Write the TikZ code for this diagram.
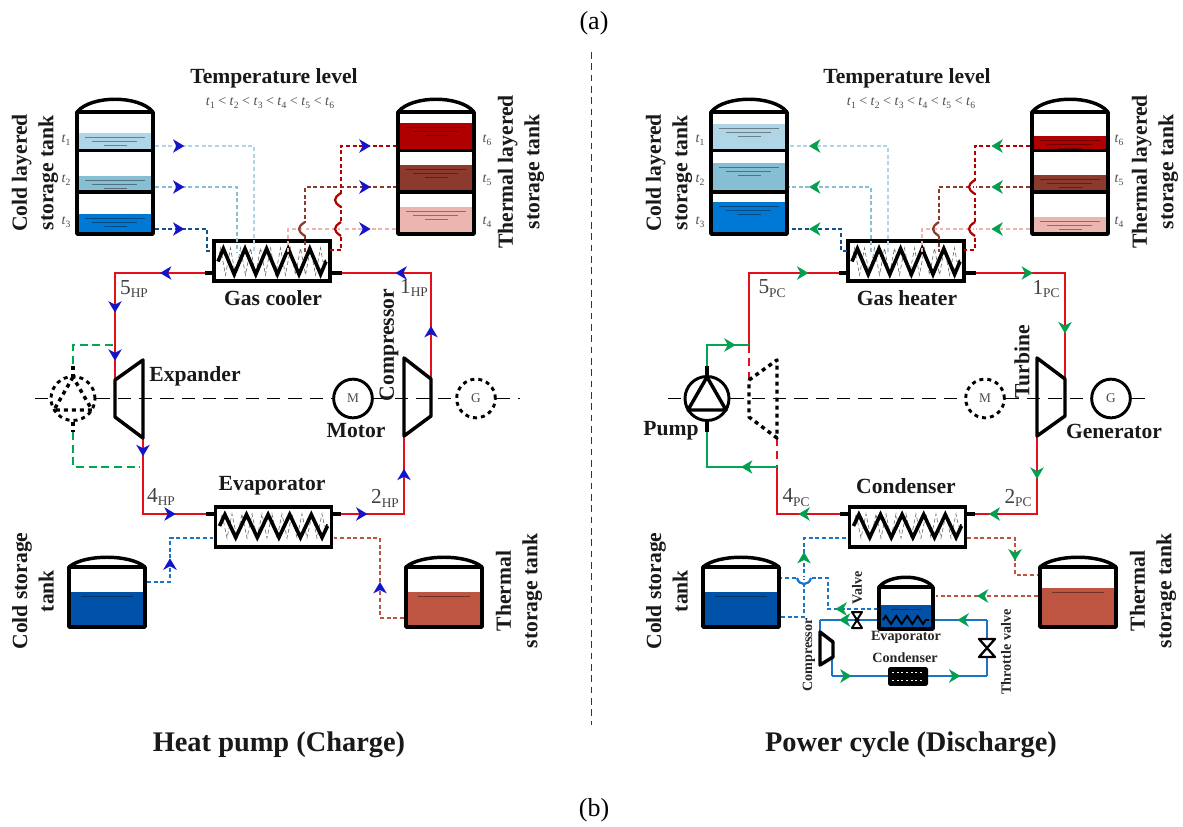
\documentclass[tikz,border=0pt]{standalone}
\usepackage{fontspec}
\setmainfont{Liberation Serif}
\usetikzlibrary{calc,arrows.meta,decorations.markings,decorations.pathmorphing}

\definecolor{pipered}{HTML}{E3101C}
\definecolor{pipegreen}{HTML}{00A651}
\definecolor{pipeblue}{HTML}{1B75C4}
\definecolor{tipblue}{HTML}{1414C8}
\definecolor{tipgreen}{HTML}{00A050}
\definecolor{layerA}{HTML}{AFD5E7}
\definecolor{layerB}{HTML}{86BED3}
\definecolor{layerC}{HTML}{0079D6}
\definecolor{layerF}{HTML}{B00000}
\definecolor{layerE}{HTML}{8C3A2D}
\definecolor{layerD}{HTML}{EBB6AF}
\definecolor{coldwater}{HTML}{0052A8}
\definecolor{hotwater}{HTML}{BD5541}

\tikzset{
	flowtip/.style 2 args={postaction={decorate,decoration={markings,mark=at position #2 with {\arrow{Stealth[length=8.5pt,width=10pt,inset=2.5pt,color=#1]}}}}},
	bluetip/.style={flowtip={tipblue}{#1}},
	greentip/.style={flowtip={tipgreen}{#1}},
	mainpipe/.style={draw=pipered,line width=1.7pt,line cap=rect},
	finepipe/.style={line width=1.5pt,dash pattern=on 3pt off 2pt},
	blackline/.style={draw=black,line width=2.6pt,line join=round},
	shaft/.style={draw=black,line width=1.1pt,dash pattern=on 10pt off 6pt},
	machine/.style={circle,draw=black,line width=2.2pt,minimum size=29pt,inner sep=0pt,fill=white,text=black!70},
	hxbox/.style={draw=black,line width=2.6pt,fill=white,minimum width=87pt,minimum height=30pt,inner sep=0pt},
	bigname/.style={font=\fontsize{16.2}{20}\selectfont\bfseries,text=black!90,inner sep=0pt,align=center},
	smallname/.style={font=\fontsize{10.6}{12}\selectfont\bfseries,text=black!85,inner sep=0pt},
	statename/.style={font=\fontsize{16}{18}\selectfont,text=black!75,inner sep=0pt},
	levelname/.style={font=\fontsize{10.5}{12}\selectfont,text=black!70,inner sep=0pt},
	titlename/.style={font=\fontsize{21.3}{26}\selectfont\bfseries,text=black!90,inner sep=0pt},
	capname/.style={font=\fontsize{19.5}{22}\selectfont,inner sep=0pt},
}

\newcommand{\statelab}[2]{#1\raisebox{-0.4ex}{\fontsize{10}{12}\selectfont #2}}
\newcommand{\tlab}[1]{\textit{t}\raisebox{-0.35ex}{\fontsize{7.2}{8}\selectfont #1}}

% tank with three stacked layers: left x, {top/bottom/colour,...}
\newcommand{\layertank}[2]{
	\foreach \ytop/\ybot/\fillc in {#2}{
		\fill[\fillc] (#1,\ytop) rectangle (#1+76,\ybot);
		\draw[\fillc!60!black,line width=0.5pt] (#1+8,\ytop+4) -- (#1+68,\ytop+4);
		\draw[\fillc!60!black,line width=0.5pt] (#1+15,\ytop+8) -- (#1+60,\ytop+8);
		\draw[\fillc!60!black,line width=0.5pt] (#1+27,\ytop+12) -- (#1+50,\ytop+12);
	};
	\draw[blackline] (#1,112) -- (#1+76,112) -- (#1+76,234) -- (#1,234) -- cycle;
	\draw[blackline] (#1,112) .. controls (#1+14,95) and (#1+62,95) .. (#1+76,112);
	\draw[blackline] (#1,150.5) -- (#1+76,150.5);
	\draw[blackline] (#1,192) -- (#1+76,192);
}

% plain tank: left x, width, top y, bottom y, level y, colour
\newcommand{\plaintank}[6]{
	\fill[#6] (#1,#5) rectangle (#1+#2,#4);
	\draw[#6!60!black,line width=0.5pt] (#1+12,#5+4) -- (#1+#2-12,#5+4);
	\draw[blackline] (#1,#3) -- (#1+#2,#3) -- (#1+#2,#4) -- (#1,#4) -- cycle;
	\draw[blackline] (#1,#3) .. controls (#1+#2*0.2,#3-13) and (#1+#2*0.8,#3-13) .. (#1+#2,#3);
}

% coil of an exchanger: left x, right x, middle y, half height
\newcommand{\coilrow}[4]{
	\draw[black!60,line width=0.45pt,densely dashed,decorate,decoration={zigzag,amplitude=#4+0.5pt,segment length=7.5pt}] (#1,#3) -- (#2,#3);
	\draw[black,line width=2.7pt,line join=miter,decorate,decoration={zigzag,amplitude=#4,segment length=16.2pt}] (#1,#3) -- (#2,#3);
}

\newcommand{\pumpmark}[2]{
	\draw[blackline,#2] (#1,377) -- (#1-19,410) -- (#1+19,410) -- cycle;
	\draw[blackline,#2] (#1,366) -- (#1,377);
	\draw[blackline,#2] (#1,422) -- (#1,432);
}

% small crossing bump on a pipe: x, y, colour
\newcommand{\hopleft}[3]{
	\draw[white,line width=2.2pt] (#1,#2-6) -- (#1,#2+6);
	\draw[#3,line width=1.7pt] (#1,#2-7) .. controls (#1-8,#2-2) and (#1-8,#2+2) .. (#1,#2+7);
}

\begin{document}
\begin{tikzpicture}[x=0.75pt,y=-0.75pt]
	\useasboundingbox (0,0) rectangle (1183,827);
	
	\coordinate (divtop) at (591,52);
	\coordinate (divbot) at (591,725);
	\draw[black!80,line width=0.7pt,dash pattern=on 5pt off 3.5pt] (divtop) -- (divbot);
	
	%%%% heat pump side
	\layertank{77}{133/150/layerA,176/192/layerB,214/234/layerC}
	\layertank{398}{123/151/layerF,165/192/layerE,207/234/layerD}
	\plaintank{69}{76}{567}{627}{592}{coldwater}
	\plaintank{406}{76}{567}{627}{592}{hotwater}
	
	\node at (272,261) [hxbox] (hCool) {};
	\node at (273.5,527) [hxbox] (hEvap) {};
	\coilrow{218}{326}{261.5}{9.6pt}
	\coilrow{219.5}{327.5}{526}{8.6pt}
	
	\coordinate (hTL) at (115,273);
	\coordinate (hTR) at (431,273);
	\coordinate (hBL) at (143,514);
	\coordinate (hBR) at (404,514);
	\coordinate (hCoolL) at (205,273);
	\coordinate (hCoolR) at (342,273);
	\coordinate (hEvapL) at (206,514);
	\coordinate (hEvapR) at (341,514);
	\coordinate (hExpA) at (115,380);
	\coordinate (hExpB) at (143,438);
	\coordinate (hCompA) at (404,436);
	\coordinate (hCompB) at (431,379);
	
	\path
	(hCoolL) edge[mainpipe,bluetip=0.5] (hTL)
	(hTL) edge[mainpipe,bluetip=0.37,bluetip=0.82] (hExpA)
	(hExpB) edge[mainpipe,bluetip=0.24] (hBL)
	(hBL) edge[mainpipe,bluetip=0.52] (hEvapL)
	(hEvapR) edge[mainpipe,bluetip=0.42] (hBR)
	(hBR) edge[mainpipe,bluetip=0.58] (hCompA)
	(hCompB) edge[mainpipe,bluetip=0.5] (hTR)
	(hTR) edge[mainpipe,bluetip=0.4] (hCoolR)
	;
	\draw[black,line width=2.6pt] (hCoolL) -- (hCool.west |- hCoolL);
	\draw[black,line width=2.6pt] (hCool.east |- hCoolR) -- (hCoolR);
	\draw[black,line width=2.6pt] (hEvapL) -- (hEvap.west |- hEvapL);
	\draw[black,line width=2.6pt] (hEvap.east |- hEvapR) -- (hEvapR);
	
	\draw[blackline,fill=white] (115,380) -- (143,360) -- (143,438) -- (115,417) -- cycle;
	\draw[blackline,fill=white] (404,358) -- (431,379) -- (431,416) -- (404,436) -- cycle;
	
	\node at (73,398.5) [machine,dashed,minimum size=33pt] (hPump) {};
	\pumpmark{73}{dashed}
	\node at (353,398.5) [machine] (hMotor) {M};
	\node at (476,398.5) [machine,dashed] (hGen) {G};
	
	\coordinate (hShaftW) at (35,398.5);
	\coordinate (hShaftE) at (520,398.5);
	\path
	(hShaftW) edge[shaft] (hPump)
	(hPump) edge[shaft] (hMotor)
	(hMotor) edge[shaft] (hGen)
	(hGen) edge[shaft] (hShaftE)
	;
	
	\coordinate (hGreenA) at (113,345);
	\coordinate (hGreenB) at (73,365);
	\coordinate (hGreenC) at (73,432);
	\coordinate (hGreenD) at (140,467);
	\draw[pipegreen,line width=1.6pt,dash pattern=on 6pt off 3.5pt] (hGreenA) -| (hGreenB);
	\draw[pipegreen,line width=1.6pt,dash pattern=on 6pt off 3.5pt] (hGreenC) |- (hGreenD);
	
	\foreach \n/\px/\py/\pc in {1/254/146/layerA,2/237/187/layerB}{
		\coordinate (hCold\n) at (155,\py);
		\coordinate (hCoil\n) at (\px,252);
		\draw[finepipe,draw=\pc,bluetip=22pt] (hCold\n) -| (hCoil\n);
	};
	\coordinate (hColdC) at (155,229);
	\coordinate (hColdD) at (207,229);
	\coordinate (hColdE) at (213,251);
	\draw[finepipe,draw=pipeblue!70!black,bluetip=22pt] (hColdC) -- (hColdD) |- (hColdE);
	
	\foreach \n/\px/\py/\pc in {1/288/229/layerD,2/305/187/layerE}{
		\coordinate (hHot\n) at (396,\py);
		\coordinate (hHoil\n) at (\px,252);
		\draw[finepipe,draw=\pc,bluetip=-19pt] (hHoil\n) |- (hHot\n);
	};
	\coordinate (hHotC) at (330,250);
	\coordinate (hHotD) at (341,250);
	\coordinate (hHotE) at (396,146);
	\draw[finepipe,draw=layerF,bluetip=-19pt] (hHotC) -- (hHotD) |- (hHotE);
	\hopleft{341}{200}{layerF}
	\hopleft{341}{229}{layerF}
	\hopleft{305}{229}{layerE}
	
	\coordinate (hDotA) at (147,582);
	\coordinate (hDotB) at (170,582);
	\coordinate (hDotC) at (213,538);
	\draw[finepipe,draw=pipeblue,bluetip=35pt] (hDotA) -- (hDotB) |- (hDotC);
	\coordinate (hDotD) at (334,538);
	\coordinate (hDotE) at (380,538);
	\coordinate (hDotF) at (404,618);
	\draw[finepipe,draw=hotwater,bluetip=45pt] (hDotF) -| (hDotE) -- (hDotD);
	
	\node[bigname] (hTemp) at (274,78) {Temperature level};
	\node[levelname] (hOrder) at (270,103) {\tlab{1} < \tlab{2} < \tlab{3} < \tlab{4} < \tlab{5} < \tlab{6}};
	\node[bigname,rotate=90] (hColdName) at (35,173) {Cold layered\\storage tank};
	\node[bigname,rotate=90] (hHotName) at (521,172) {Thermal layered\\storage tank};
	\node[bigname,rotate=90] (hStoreC) at (33,591) {Cold storage\\tank};
	\node[bigname,rotate=90] (hStoreH) at (519,591) {Thermal\\storage tank};
	\node[bigname] (hCoolName) at (273,298) {Gas cooler};
	\node[bigname] (hEvapName) at (272,486) {Evaporator};
	\node[bigname] (hExpName) at (195,376) {Expander};
	\node[bigname] (hMotorName) at (356,431) {Motor};
	\node[bigname,rotate=90] (hCompName) at (389,345) {Compressor};
	\node[statename] (hS5) at (134,289) {\statelab{5}{HP}};
	\node[statename] (hS1) at (414,288) {\statelab{1}{HP}};
	\node[statename] (hS4) at (161,497) {\statelab{4}{HP}};
	\node[statename] (hS2) at (385,498) {\statelab{2}{HP}};
	\foreach \n/\yy in {1/140,2/180,3/222}{
		\node[levelname] (hT\n) at (66,\yy) {\tlab{\n}};
	};
	\foreach \n/\yy in {6/140,5/180,4/222}{
		\node[levelname] (hT\n) at (487,\yy) {\tlab{\n}};
	};
	\node[titlename] (hTitle) at (279,745) {Heat pump (Charge)};
	
	%%%% power cycle side
	\layertank{711}{124/150/layerA,163/192/layerB,202/234/layerC}
	\layertank{1032}{136/151/layerF,175/192/layerE,217/234/layerD}
	\plaintank{703}{76}{567}{627}{592}{coldwater}
	\plaintank{1040}{76}{567}{627}{588}{hotwater}
	
	\node at (906,261) [hxbox] (pHeat) {};
	\node at (907.5,527) [hxbox] (pCond) {};
	\coilrow{852}{960}{261.5}{9.6pt}
	\coilrow{853.5}{961.5}{526}{8.6pt}
	
	\coordinate (pTL) at (749,273);
	\coordinate (pTR) at (1065,273);
	\coordinate (pBL) at (777,514);
	\coordinate (pBR) at (1037,514);
	\coordinate (pHeatL) at (839,273);
	\coordinate (pHeatR) at (976,273);
	\coordinate (pCondL) at (840,514);
	\coordinate (pCondR) at (975,514);
	\coordinate (pFeedA) at (749,345);
	\coordinate (pFeedB) at (749,380);
	\coordinate (pFeedC) at (777,438);
	\coordinate (pFeedD) at (777,467);
	\coordinate (pTurbA) at (1065,379);
	\coordinate (pTurbB) at (1037,436);
	
	\path
	(pFeedA) edge[mainpipe] (pTL)
	(pTL) edge[mainpipe,greentip=0.66] (pHeatL)
	(pHeatR) edge[mainpipe,greentip=0.64] (pTR)
	(pTR) edge[mainpipe,greentip=0.57] (pTurbA)
	(pTurbB) edge[mainpipe,greentip=0.55] (pBR)
	(pBR) edge[mainpipe,greentip=0.78] (pCondR)
	(pCondL) edge[mainpipe,greentip=0.66] (pBL)
	(pBL) edge[mainpipe] (pFeedD)
	;
	\draw[black,line width=2.6pt] (pHeatL) -- (pHeat.west |- pHeatL);
	\draw[black,line width=2.6pt] (pHeat.east |- pHeatR) -- (pHeatR);
	\draw[black,line width=2.6pt] (pCondL) -- (pCond.west |- pCondL);
	\draw[black,line width=2.6pt] (pCond.east |- pCondR) -- (pCondR);
	
	\draw[pipered,line width=1.7pt,dash pattern=on 6pt off 4pt] (pFeedA) -- (pFeedB);
	\draw[pipered,line width=1.7pt,dash pattern=on 6pt off 4pt] (pFeedC) -- (pFeedD);
	\draw[blackline,dashed] (749,380) -- (777,360) -- (777,438) -- (749,417) -- cycle;
	\draw[blackline,fill=white] (1037,358) -- (1065,379) -- (1065,416) -- (1037,436) -- cycle;
	
	\node at (707,398.5) [machine,minimum size=33pt] (pPump) {};
	\pumpmark{707}{}
	\node at (985,398.5) [machine,dashed] (pMotor) {M};
	\node at (1111,398.5) [machine] (pGen) {G};
	
	\coordinate (pShaftW) at (668,398.5);
	\coordinate (pShaftE) at (1150,398.5);
	\path
	(pShaftW) edge[shaft] (pPump)
	(pPump) edge[shaft] (pMotor)
	(pMotor) edge[shaft] (pGen)
	(pGen) edge[shaft] (pShaftE)
	;
	
	\coordinate (pGreenA) at (707,366);
	\coordinate (pGreenB) at (707,432);
	\draw[pipegreen,line width=1.7pt,greentip=-10pt] (pGreenA) |- (pFeedA);
	\draw[pipegreen,line width=1.7pt,greentip=27pt] (pFeedD) -| (pGreenB);
	
	\foreach \n/\px/\py/\pc in {1/888/146/layerA,2/871/187/layerB}{
		\coordinate (pCold\n) at (789,\py);
		\coordinate (pCoil\n) at (\px,252);
		\draw[finepipe,draw=\pc,greentip=-15pt] (pCoil\n) |- (pCold\n);
	};
	\coordinate (pColdC) at (847,251);
	\coordinate (pColdD) at (841,229);
	\coordinate (pColdE) at (789,229);
	\draw[finepipe,draw=pipeblue!70!black,greentip=-15pt] (pColdC) -| (pColdD) -- (pColdE);
	
	\foreach \n/\px/\py/\pc in {1/922/229/layerD,2/939/187/layerE}{
		\coordinate (pHot\n) at (1030,\py);
		\coordinate (pHoil\n) at (\px,252);
		\draw[finepipe,draw=\pc,greentip=29pt] (pHot\n) -| (pHoil\n);
	};
	\coordinate (pHotC) at (1030,146);
	\coordinate (pHotD) at (975,250);
	\coordinate (pHotE) at (964,250);
	\draw[finepipe,draw=layerF,greentip=29pt] (pHotC) -| (pHotD) -- (pHotE);
	\hopleft{975}{187}{layerF}
	\hopleft{975}{229}{layerF}
	\hopleft{939}{229}{layerE}
	
	% storage pipes and small heat pump
	\coordinate (pDotA) at (781,617);
	\coordinate (pDotB) at (804,538);
	\coordinate (pDotC) at (848,538);
	\draw[finepipe,draw=pipeblue,greentip=66pt] (pDotA) -| (pDotB) -- (pDotC);
	\coordinate (pDotD) at (781,578);
	\coordinate (pDotE) at (828,578);
	\coordinate (pDotF) at (878,609);
	\draw[finepipe,draw=pipeblue,greentip=32pt] (pDotF) -| (pDotE) -- (pDotD);
	\draw[white,line width=2.2pt] (798,578) -- (810,578);
	\draw[pipeblue,line width=1.7pt] (797,578) .. controls (799,586) and (809,586) .. (811,578);
	
	\coordinate (pRedA) at (967,538);
	\coordinate (pRedB) at (1015,538);
	\coordinate (pRedC) at (1038,575);
	\draw[finepipe,draw=hotwater,greentip=53pt] (pRedA) -- (pRedB) |- (pRedC);
	\coordinate (pRedD) at (1038,596);
	\coordinate (pRedE) at (936,596);
	\draw[finepipe,draw=hotwater,greentip=0.6] (pRedD) -- (pRedE);
	
	\coordinate (pLoopA) at (933,620);
	\coordinate (pLoopB) at (987,620);
	\coordinate (pLoopC) at (987,676);
	\coordinate (pLoopD) at (928,676);
	\coordinate (pLoopE) at (888,676);
	\coordinate (pLoopF) at (832,676);
	\coordinate (pLoopG) at (832,658);
	\coordinate (pLoopH) at (820,632);
	\coordinate (pLoopI) at (820,620);
	\coordinate (pLoopJ) at (879,620);
	\path
	(pLoopB) edge[draw=pipeblue,line width=1.7pt,greentip=0.55] (pLoopA)
	(pLoopB) edge[draw=pipeblue,line width=1.7pt] (pLoopC)
	(pLoopD) edge[draw=pipeblue,line width=1.7pt,greentip=0.55] (pLoopC)
	(pLoopF) edge[draw=pipeblue,line width=1.7pt,greentip=0.35] (pLoopE)
	(pLoopG) edge[draw=pipeblue,line width=1.7pt] (pLoopF)
	(pLoopH) edge[draw=pipeblue,line width=1.7pt] (pLoopI)
	(pLoopJ) edge[draw=pipeblue,line width=1.7pt,greentip=0.68] (pLoopI)
	;
	
	\plaintank{879}{54}{587}{629}{605}{coldwater}
	\draw[black,line width=1.4pt,decorate,decoration={zigzag,amplitude=3pt,segment length=8pt}] (883,620) -- (929,620);
	\draw[blackline,fill=white] (820,632) -- (833,642) -- (833,657) -- (820,665) -- cycle;
	
	\node at (908,676.5) [draw=black,fill=black,line width=1pt,rounded corners=1pt,minimum width=29pt,minimum height=13pt,inner sep=0pt] (pSmallCond) {};
	\draw[white,line width=1pt,dash pattern=on 1.5pt off 2pt] (pSmallCond.west) ++(3pt,-3pt) -- ++(23pt,0pt);
	\draw[white,line width=1pt,dash pattern=on 1.5pt off 2pt] (pSmallCond.west) ++(3pt,3pt) -- ++(23pt,0pt);
	
	\draw[blackline,fill=white,line width=1.7pt] (979,639) -- (995,639) -- (979,657) -- (995,657) -- cycle;
	\draw[blackline,fill=white,line width=1.5pt] (852,612) -- (862,612) -- (852,628) -- (862,628) -- cycle;
	\fill[black] (857,620) circle (2.5);
	
	\node[bigname] (pTemp) at (907,78) {Temperature level};
	\node[levelname] (pOrder) at (911,103) {\tlab{1} < \tlab{2} < \tlab{3} < \tlab{4} < \tlab{5} < \tlab{6}};
	\node[bigname,rotate=90] (pColdName) at (669,173) {Cold layered\\storage tank};
	\node[bigname,rotate=90] (pHotName) at (1155,172) {Thermal layered\\storage tank};
	\node[bigname,rotate=90] (pStoreC) at (667,591) {Cold storage\\tank};
	\node[bigname,rotate=90] (pStoreH) at (1153,591) {Thermal\\storage tank};
	\node[bigname] (pHeatName) at (907,298) {Gas heater};
	\node[bigname] (pCondName) at (906,486) {Condenser};
	\node[bigname] (pPumpName) at (671,431) {Pump};
	\node[bigname] (pGenName) at (1114,431) {Generator};
	\node[bigname,rotate=90] (pTurbName) at (1022,362) {Turbine};
	\node[statename] (pS5) at (772,289) {\statelab{5}{PC}};
	\node[statename] (pS1) at (1046,289) {\statelab{1}{PC}};
	\node[statename] (pS4) at (796,498) {\statelab{4}{PC}};
	\node[statename] (pS2) at (1018,498) {\statelab{2}{PC}};
	\foreach \n/\yy in {1/140,2/180,3/222}{
		\node[levelname] (pT\n) at (700,\yy) {\tlab{\n}};
	};
	\foreach \n/\yy in {6/140,5/180,4/222}{
		\node[levelname] (pT\n) at (1119,\yy) {\tlab{\n}};
	};
	\node[smallname,rotate=90] (pValve) at (857,588) {Valve};
	\node[smallname] (pEvapSmall) at (906,637) {Evaporator};
	\node[smallname] (pCondSmall) at (905,658) {Condenser};
	\node[smallname,rotate=90] (pCompSmall) at (809,655) {Compressor};
	\node[smallname,rotate=90] (pThrottle) at (1006,652) {Throttle valve};
	\node[titlename] (pTitle) at (911,745) {Power cycle (Discharge)};
	
	\node[capname] (capA) at (594,23) {(a)};
	\node[capname] (capB) at (594,810) {(b)};
\end{tikzpicture}
\end{document}
